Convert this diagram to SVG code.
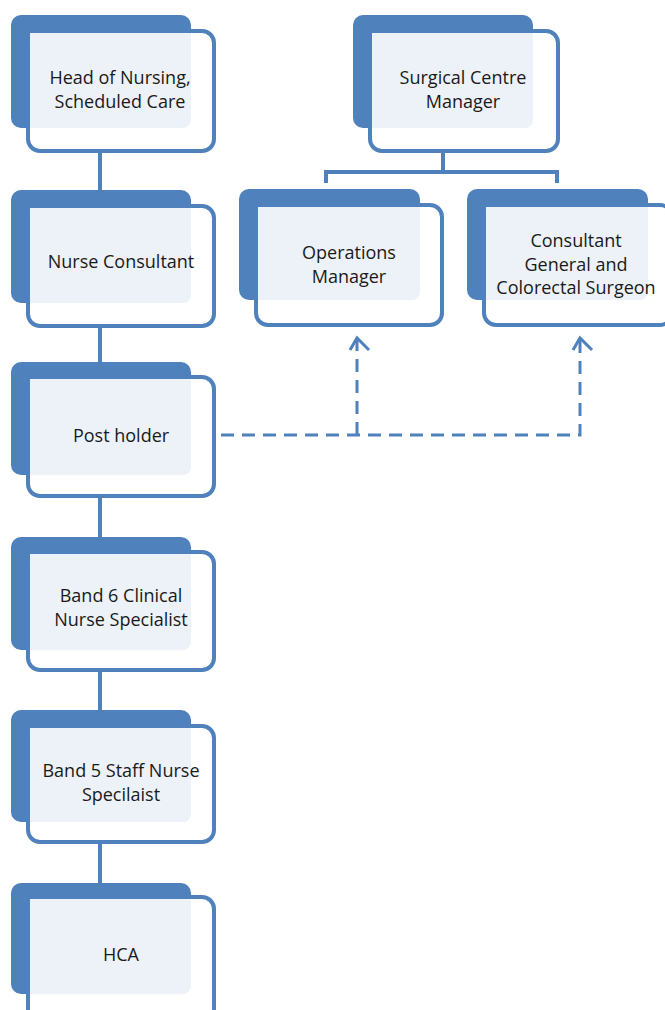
<svg xmlns="http://www.w3.org/2000/svg" width="665" height="1010" viewBox="0 0 665 1010">
<defs>
<style>
.back{fill:#4f81bd}
.front{fill:#ffffff;stroke:#4f81bd;stroke-width:4}
.inner{fill:#edf1f8}
.t{font-family:"Open Sans","Liberation Sans",sans-serif;font-size:18px;fill:#1a1a1a;text-anchor:middle}
.conn{fill:none;stroke:#4f81bd;stroke-width:4}
.stub{fill:none;stroke:#dbe3ee;stroke-width:4}
.dash{fill:none;stroke:#4f81bd;stroke-width:3;stroke-dasharray:13 8}
.arr{fill:none;stroke:#4f81bd;stroke-width:3}
</style>
</defs>
<rect width="665" height="1010" fill="#ffffff"/>
<g id="connectors">
<path class="stub" d="M100 130V150M100 305V325M100 475V495M100 650V669M100 822V841M443 130V150"/>
<path class="conn" d="M100 152V190M100 327V362M100 497V537M100 671V710M100 843V883"/>
<path class="conn" d="M443 152V172M326 183V172H557V183"/>
<path class="dash" d="M221 435H580V338M357 435V338"/>
<path class="arr" d="M350 350L357 338L369 350M573 350L580 338L592 350"/>
</g>
<g id="n1">
<rect class="back" x="11" y="15" width="180" height="113" rx="10"/>
<rect class="front" x="28" y="31" width="186" height="120" rx="12"/>
<path class="inner" d="M30 33H191V120a8 8 0 0 1-8 8H30Z"/>
<text class="t" x="120" y="84">Head of Nursing,</text>
<text class="t" x="120" y="108">Scheduled Care</text>
</g>
<g id="n2">
<rect class="back" x="11" y="190" width="180" height="113" rx="10"/>
<rect class="front" x="28" y="206" width="186" height="120" rx="12"/>
<path class="inner" d="M30 208H191V295a8 8 0 0 1-8 8H30Z"/>
<text class="t" x="121" y="268">Nurse Consultant</text>
</g>
<g id="n3">
<rect class="back" x="11" y="362" width="180" height="113" rx="10"/>
<rect class="front" x="28" y="377" width="186" height="119" rx="12"/>
<path class="inner" d="M30 379H191V467a8 8 0 0 1-8 8H30Z"/>
<text class="t" x="121" y="442">Post holder</text>
</g>
<g id="n4">
<rect class="back" x="11" y="537" width="180" height="113" rx="10"/>
<rect class="front" x="28" y="552" width="186" height="118" rx="12"/>
<path class="inner" d="M30 554H191V642a8 8 0 0 1-8 8H30Z"/>
<text class="t" x="121" y="602">Band 6 Clinical</text>
<text class="t" x="121" y="626">Nurse Specialist</text>
</g>
<g id="n5">
<rect class="back" x="11" y="710" width="180" height="112" rx="10"/>
<rect class="front" x="28" y="726" width="186" height="116" rx="12"/>
<path class="inner" d="M30 728H191V814a8 8 0 0 1-8 8H30Z"/>
<text class="t" x="121" y="777">Band 5 Staff Nurse</text>
<text class="t" x="121" y="801">Specilaist</text>
</g>
<g id="n6">
<rect class="back" x="11" y="883" width="180" height="111" rx="10"/>
<rect class="front" x="28" y="897" width="186" height="125" rx="12"/>
<path class="inner" d="M30 899H191V986a8 8 0 0 1-8 8H30Z"/>
<text class="t" x="121" y="961">HCA</text>
</g>
<g id="n7">
<rect class="back" x="353" y="15" width="180" height="113" rx="10"/>
<rect class="front" x="370" y="31" width="188" height="120" rx="12"/>
<path class="inner" d="M372 33H533V120a8 8 0 0 1-8 8H372Z"/>
<text class="t" x="463" y="84">Surgical Centre</text>
<text class="t" x="463" y="108">Manager</text>
</g>
<g id="n8">
<rect class="back" x="239" y="189" width="181" height="111" rx="10"/>
<rect class="front" x="256" y="205" width="186" height="120" rx="12"/>
<path class="inner" d="M258 207H420V292a8 8 0 0 1-8 8H258Z"/>
<text class="t" x="349" y="259">Operations</text>
<text class="t" x="349" y="283">Manager</text>
</g>
<g id="n9">
<rect class="back" x="467" y="189" width="181" height="111" rx="10"/>
<rect class="front" x="484" y="205" width="188" height="120" rx="12"/>
<path class="inner" d="M486 207H648V292a8 8 0 0 1-8 8H486Z"/>
<text class="t" x="576" y="247">Consultant</text>
<text class="t" x="576" y="271">General and</text>
<text class="t" x="576" y="294">Colorectal Surgeon</text>
</g>
</svg>
